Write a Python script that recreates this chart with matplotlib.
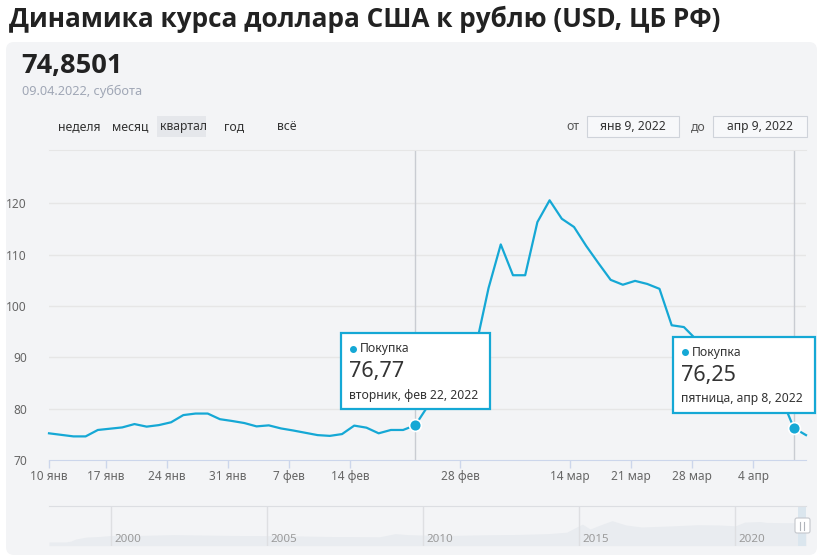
import numpy as np
import pandas as pd
import matplotlib
matplotlib.use("Agg")
import matplotlib.pyplot as plt
from matplotlib.patches import Rectangle, FancyBboxPatch

plt.rcParams['font.family'] = ['Noto Sans', 'DejaVu Sans']
bold_family = ['Open Sans', 'Roboto', 'DejaVu Sans']

# курс (покупка), даты ЦБ: вт-сб, без праздников 23.02 и 08.03
dates = pd.bdate_range('2022-01-11', '2022-04-09', freq='C',
                       weekmask='Tue Wed Thu Fri Sat',
                       holidays=['2022-02-23', '2022-03-08'])
rates = [75.2, 74.9, 74.6, 74.6, 75.85,
         76.1, 76.35, 77.0, 76.5, 76.8,
         77.35, 78.75, 79.05, 79.05, 77.95,
         77.6, 77.2, 76.55, 76.75, 76.15,
         75.75, 75.3, 74.85, 74.7, 75.05,
         76.7, 76.3, 75.2, 75.85, 75.85,
         76.77, 80.4, 86.9, 83.6,
         89.0, 92.5, 103.5, 112.0, 106.0,
         106.0, 116.35, 120.6, 117.0,
         115.4, 111.7, 108.35, 105.1, 104.15,
         104.9, 104.3, 103.35, 96.25, 95.9,
         93.5, 88.0, 85.0, 84.5, 84.0,
         84.2, 83.0, 82.0, 76.25, 74.85]

tick_dates = ['2022-01-10', '2022-01-17', '2022-01-24', '2022-01-31', '2022-02-07',
              '2022-02-14', '2022-02-28', '2022-03-14', '2022-03-21', '2022-03-28',
              '2022-04-04']
tick_labels = ['10 янв', '17 янв', '24 янв', '31 янв', '7 фев', '14 фев',
               '28 фев', '14 мар', '21 мар', '28 мар', '4 апр']
y_ticks = [70, 80, 90, 100, 110, 120]

periods = ['неделя', 'месяц', 'квартал', 'год', 'всё']

# подсказки: индекс точки, значение, подпись
tips = [(30, '76,77', 'вторник, фев 22, 2022'),
        (61, '76,25', 'пятница, апр 8, 2022')]

# навигатор (вся история)
nav_years = [1998.0, 1998.55, 1998.7, 1998.85, 1999.2, 1999.6, 2000.0, 2001.0,
             2002.0, 2003.0, 2004.0, 2005.0, 2006.0, 2007.0, 2008.0, 2008.6,
             2009.1, 2009.5, 2010.0, 2011.0, 2012.0, 2013.0, 2014.0, 2014.6,
             2014.95, 2015.1, 2015.35, 2015.6, 2016.05, 2016.5, 2017.0, 2018.0,
             2018.8, 2019.5, 2020.0, 2020.3, 2020.8, 2021.0, 2021.5, 2021.9,
             2022.1, 2022.27]
nav_rates = [6, 6.2, 9, 16, 23, 25, 28.5, 29, 31.5, 30, 28.5, 28, 27, 25,
             24.5, 24, 35, 31.5, 30, 29, 31, 32, 35, 40,
             60, 68, 51, 62, 80, 65, 58, 62,
             66, 65, 62, 75, 77, 74, 73, 73,
             80, 75]
nav_labels = [2000, 2005, 2010, 2015, 2020]

W, H = 823, 559
cyan = '#15a8d5'
fig = plt.figure(figsize=(W / 100, H / 100), dpi=100)

# фон и шапка (координаты в пикселях)
back = fig.add_axes([0, 0, 1, 1], zorder=0)
back.set_xlim(0, W)
back.set_ylim(H, 0)
back.axis('off')
back.add_patch(FancyBboxPatch((6, 42), 811, 513, boxstyle='round,pad=0,rounding_size=8',
                              facecolor='#f3f4f6', edgecolor='none'))
back.text(9, 19, 'Динамика курса доллара США к рублю (USD, ЦБ РФ)', fontsize=18.8,
          fontweight='bold', family=bold_family, color='#222222', va='center')
back.text(21, 66, '74,8501', fontsize=19.6, fontweight='bold', family=bold_family,
          color='#222222', va='center')
back.text(22, 91, '09.04.2022, суббота', fontsize=9.2, color='#a0a7b6', va='center')

px = [58, 112, 160, 224, 277]
back.add_patch(Rectangle((157, 116), 49, 21, facecolor='#e5e7eb', edgecolor='none'))
for name, x in zip(periods, px):
    back.text(x, 126.5, name, fontsize=8.8, color='#333333', va='center')

back.text(566, 126.5, 'от', fontsize=8.8, color='#555555', va='center')
back.text(691, 126.5, 'до', fontsize=8.8, color='#555555', va='center')
for x0, w, s in [(587, 92, 'янв 9, 2022'), (713, 94, 'апр 9, 2022')]:
    back.add_patch(Rectangle((x0, 116), w, 21, facecolor='#f7f8fa', edgecolor='#cfd3da', lw=0.8))
    back.text(x0 + w / 2, 126.5, s, fontsize=8.8, color='#333333', va='center', ha='center')

# основной график
idx = np.arange(len(dates))
ax = fig.add_axes([49 / W, 1 - 460 / H, (806 - 49) / W, (460 - 150) / H], zorder=1)
ax.set_facecolor('none')
ax.set_xlim(0, len(dates) - 1)
ax.set_ylim(70, 130.4)
for s in ['left', 'right']:
    ax.spines[s].set_visible(False)
ax.spines['top'].set_color('#e6e6e6')
ax.spines['bottom'].set_color('#ccd6eb')
for v in y_ticks[1:]:
    ax.axhline(v, color='#e6e6e6', lw=1, zorder=0)
ax.set_yticks(y_ticks)
ax.tick_params(axis='y', length=0, pad=16, labelcolor='#666666', labelsize=8.6)

ordinals = np.array([d.toordinal() for d in dates])
tpos = np.interp([pd.Timestamp(d).toordinal() for d in tick_dates], ordinals, idx)
ax.set_xticks(tpos)
ax.set_xticklabels(tick_labels)
ax.tick_params(axis='x', length=6, width=1, color='#ccd6eb', pad=1.5,
               labelcolor='#666666', labelsize=8.5)

ax.plot(idx, rates, color=cyan, lw=1.6, solid_joinstyle='round', zorder=3, clip_on=False)

# подсказки поверх
front = fig.add_axes([0, 0, 1, 1], zorder=3)
front.set_xlim(0, W)
front.set_ylim(H, 0)
front.axis('off')
offsets = [(-74, -92), (-121, -91)]
for (i, val, label), (dx, dy) in zip(tips, offsets):
    ax.axvline(i, color='#c9ccd2', lw=1, zorder=1)
    ax.plot(i, rates[i], 'o', ms=8.5, mfc=cyan, mec='white', mew=1.2, zorder=4, clip_on=False)
    xd, yd = ax.transData.transform((i, rates[i]))
    x0, y0 = xd + dx, (H - yd) + dy
    front.add_patch(Rectangle((x0, y0), 149 if i == 30 else 142, 76,
                              facecolor='white', edgecolor=cyan, lw=1.6))
    front.plot(x0 + 12, y0 + 15.5, 'o', ms=4, color=cyan)
    front.text(x0 + 19, y0 + 15.5, 'Покупка', fontsize=8.8, color='#333333', va='center')
    front.text(x0 + 8, y0 + 38.5, val, fontsize=15.5, color='#333333', va='center')
    front.text(x0 + 8, y0 + 62, label, fontsize=8.8, color='#333333', va='center')

# навигатор
nav = fig.add_axes([49 / W, 1 - 545.7 / H, (806 - 49) / W, (545.7 - 506) / H], zorder=1)
nav.set_facecolor('none')
nav.set_xlim(1998.0, 2022.27)
nav.set_ylim(-7, 131)
nav.fill_between(nav_years, nav_rates, -7, color='#e9ecf0', lw=0)
for y in nav_labels:
    nav.axvline(y, color='#dedfe2', lw=1)
    nav.text(y + 0.1, 15, str(y), fontsize=8.3, color='#9a9a9a', va='center')
nav.axvspan(2022.02, 2022.27, color='#dbe6ee', lw=0)
for s in ['left', 'right', 'bottom']:
    nav.spines[s].set_visible(False)
nav.spines['top'].set_color('#dcdee2')
nav.set_xticks([])
nav.set_yticks([])

front.add_patch(FancyBboxPatch((795, 518), 15, 15, boxstyle='round,pad=0,rounding_size=2',
                               facecolor='white', edgecolor='#c4c7cc', lw=0.8))
for x in [800.5, 804.5]:
    front.plot([x, x], [521.5, 529.5], color='#b0b4ba', lw=0.8)

fig.savefig('out.png', dpi=100, facecolor='white')
